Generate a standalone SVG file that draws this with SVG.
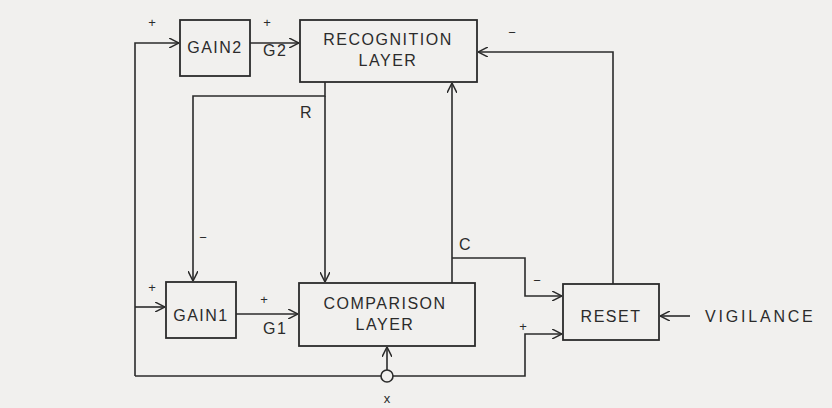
<svg xmlns="http://www.w3.org/2000/svg" width="832" height="408" viewBox="0 0 832 408">
<defs>
<marker id="arr" viewBox="0 0 10 10" refX="10" refY="5" markerWidth="10" markerHeight="10" markerUnits="userSpaceOnUse" orient="auto">
<path d="M0,0 L10,5 L0,10" fill="none" stroke="#2b2b2b" stroke-width="1.5"/>
</marker>
</defs>
<style>
.box{fill:none;stroke:#2b2b2b;stroke-width:1.8}
.ln{fill:none;stroke:#2b2b2b;stroke-width:1.6}
.a{marker-end:url(#arr)}
text{font-family:"Liberation Sans",Arial,sans-serif;fill:#2b2b2b;font-size:16px;letter-spacing:1.5px}
.c{text-anchor:middle}
.s{font-size:13px;letter-spacing:0}
.w{letter-spacing:2.8px}
</style>
<rect width="832" height="408" fill="#f1f0ee"/>
<g id="connectors">
<polyline class="ln a" points="135,376 135,43 179,43"/>
<line class="ln a" x1="250" y1="43" x2="299" y2="43"/>
<polyline class="ln a" points="325,82 325,96 193,96 193,281"/>
<line class="ln a" x1="325" y1="96" x2="325" y2="282"/>
<line class="ln a" x1="452" y1="283" x2="452" y2="83"/>
<line class="ln a" x1="135" y1="307" x2="165" y2="307"/>
<line class="ln a" x1="236" y1="314" x2="298" y2="314"/>
<polyline class="ln a" points="452,258 525,258 525,296 562,296"/>
<polyline class="ln" points="135,376 381,376"/>
<polyline class="ln a" points="393,376 525,376 525,334 562,334"/>
<line class="ln a" x1="387" y1="370" x2="387" y2="347"/>
<circle cx="387" cy="376" r="6" fill="none" stroke="#2b2b2b" stroke-width="1.6"/>
<polyline class="ln a" points="613,284 613,52 478,52"/>
<line class="ln a" x1="690" y1="316" x2="660" y2="316"/>
</g>
<g id="gain2">
<rect class="box" x="180" y="20" width="70" height="56"/>
<text x="215" y="53" class="c">GAIN2</text>
</g>
<g id="recognition">
<rect class="box" x="300" y="20" width="177" height="62"/>
<text x="388" y="45" class="c">RECOGNITION</text>
<text x="388" y="66" class="c">LAYER</text>
</g>
<g id="gain1">
<rect class="box" x="166" y="282" width="70" height="56"/>
<text x="201" y="321" class="c">GAIN1</text>
</g>
<g id="comparison">
<rect class="box" x="299" y="283" width="176" height="63"/>
<text x="385" y="309" class="c">COMPARISON</text>
<text x="385" y="330" class="c">LAYER</text>
</g>
<g id="reset">
<rect class="box" x="563" y="284" width="96" height="56"/>
<text x="611" y="322" class="c">RESET</text>
</g>
<g id="labels">
<text x="705" y="322" class="w">VIGILANCE</text>
<text x="263" y="56">G2</text>
<text x="263" y="334">G1</text>
<text x="300" y="118">R</text>
<text x="459" y="250">C</text>
<text x="387" y="403" class="c s">x</text>
<text x="152" y="27" class="c s">+</text>
<text x="267" y="27" class="c s">+</text>
<text x="152" y="292" class="c s">+</text>
<text x="264" y="304" class="c s">+</text>
<text x="523" y="331" class="c s">+</text>
<text x="537" y="285" class="c s">−</text>
<text x="203" y="242" class="c s">−</text>
<text x="512" y="37" class="c s">−</text>
</g>
</svg>
